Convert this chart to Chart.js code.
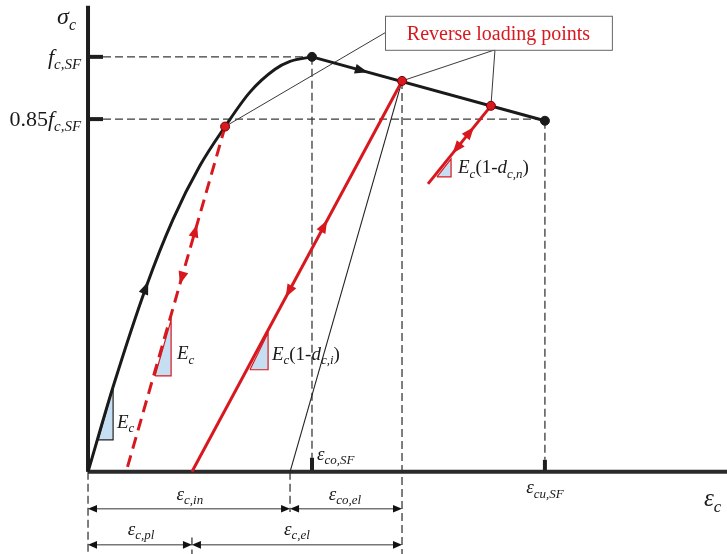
<!DOCTYPE html>
<html>
<head>
<meta charset="utf-8">
<script src="https://cdn.jsdelivr.net/npm/chart.js@4.4.1/dist/chart.umd.min.js"></script>
<style>
  html, body { margin: 0; padding: 0; background: #fff; }
  #wrap { width: 727px; height: 554px; position: relative; }
</style>
</head>
<body>
<div id="wrap"><canvas id="chart"></canvas></div>
<script>
// Schematic compression law: strain scaled by eps_co,SF, stress scaled by f_c,SF
var envelopeStrain = [0, 0.112, 0.259, 0.379, 0.500, 0.612, 0.723, 0.835, 0.902, 1.0];
var envelopeStress = [0, 0.205, 0.445, 0.608, 0.738, 0.832, 0.915, 0.970, 0.989, 1.0];
var softeningStrain = [1.0, 2.04];
var softeningStress = [1.0, 0.846];
var reverseStrain = [0.612, 1.402, 1.799];
var reverseStress = [0.832, 0.942, 0.882];
var unloadEndStrain = [0.170, 0.464, 1.518];
var unloadEndStress = [0, 0, 0.694];
var epsIn = 0.902;          // secant intercept (eps_c,in)
var stressTicks = [1.0, 0.85];
var strainTicks = [1.0, 2.04];

// slope triangles: [left x, right x] and [bottom y, top y]
var triStrain = [[0.045, 0.112], [0.299, 0.371], [0.723, 0.804], [1.558, 1.621]];
var triStress = [[0.077, 0.205], [0.231, 0.366], [0.246, 0.335], [0.711, 0.754]];

var RED = '#d7191f';
var BLUE = '#c6def2';
var FONT = '"Liberation Serif", "DejaVu Serif", serif';

var xMin = -0.393, xMax = 2.853, yMin = -0.198, yMax = 1.137;
var row1 = -0.089, row2 = -0.176;   // dimension rows under the axis

function pts(xs, ys) {
  return xs.map(function(x, i) { return { x: x, y: ys[i] }; });
}
function lineDs(data, color, width, dash, order) {
  return { data: data, showLine: true, borderColor: color, borderWidth: width,
           borderDash: dash || [], pointRadius: 0, tension: 0, fill: false, order: order || 5 };
}

var datasets = [];

// dashed guide lines
var guides = [
  [[0.067, softeningStrain[0]], [stressTicks[0], stressTicks[0]]],
  [[0.067, softeningStrain[1]], [stressTicks[1], stressTicks[1]]],
  [[strainTicks[0], strainTicks[0]], [stressTicks[0], 0.034]],
  [[strainTicks[1], strainTicks[1]], [softeningStress[1], 0.029]],
  [[reverseStrain[1], reverseStrain[1]], [reverseStress[1], yMin]],
  [[0, 0], [0, yMin]],
  [[epsIn, epsIn], [0, -0.097]],
  [[unloadEndStrain[1], unloadEndStrain[1]], [-0.158, yMin]]
];
guides.forEach(function(g) {
  datasets.push(lineDs(pts(g[0], g[1]), '#3a3a3a', 1.3, [8, 4], 10));
});

// slope triangles
triStrain.forEach(function(tx, i) {
  var ty = triStress[i];
  datasets.push({
    data: pts([tx[0], tx[1], tx[1], tx[0]], [ty[0], ty[0], ty[1], ty[0]]),
    showLine: true, fill: 'shape', backgroundColor: BLUE,
    borderColor: i === 0 ? '#222' : RED, borderWidth: 1.2, pointRadius: 0, tension: 0, order: 9
  });
});

// axes and ticks
datasets.push(lineDs(pts([0, xMax], [0, 0]), '#2a2a2a', 4, null, 8));
datasets.push(lineDs(pts([0, 0], [0, 1.123]), '#1e1e1e', 4, null, 8));
stressTicks.forEach(function(s) {
  datasets.push(lineDs(pts([0, 0.067], [s, s]), '#1e1e1e', 4, null, 8));
});
datasets.push(lineDs(pts([strainTicks[0], strainTicks[0]], [0, 0.034]), '#1e1e1e', 4, null, 8));
datasets.push(lineDs(pts([strainTicks[1], strainTicks[1]], [0, 0.029]), '#1e1e1e', 4, null, 8));

// envelope
var env = lineDs(pts(envelopeStrain, envelopeStress), '#1a1a1a', 3, null, 4);
env.cubicInterpolationMode = 'monotone';
datasets.push(env);
datasets.push(lineDs(pts(softeningStrain, softeningStress), '#1a1a1a', 3, null, 4));

// secant from reverse point i
datasets.push(lineDs(pts([reverseStrain[1], epsIn], [reverseStress[1], 0]), '#222', 1.1, null, 6));

// unloading / reloading branches
datasets.push(lineDs(pts([reverseStrain[0], unloadEndStrain[0]], [reverseStress[0], unloadEndStress[0]]), RED, 3, [12, 7], 3));
datasets.push(lineDs(pts([reverseStrain[1], unloadEndStrain[1]], [reverseStress[1], unloadEndStress[1]]), RED, 3, null, 3));
datasets.push(lineDs(pts([reverseStrain[2], unloadEndStrain[2]], [reverseStress[2], unloadEndStress[2]]), RED, 3, null, 3));

// marker points
datasets.push({ data: pts([softeningStrain[0], softeningStrain[1]], [softeningStress[0], softeningStress[1]]),
  pointRadius: 4.5, pointBackgroundColor: '#1a1a1a', pointBorderColor: '#1a1a1a', showLine: false, order: 1 });
datasets.push({ data: pts(reverseStrain, reverseStress),
  pointRadius: 4.5, pointBackgroundColor: RED, pointBorderColor: '#7a0000', pointBorderWidth: 1, showLine: false, order: 1 });

// arrows on branches: [from point, to point, fraction, direction (+1 towards "to"), colour]
var arrows = [
  [[envelopeStrain[2], envelopeStress[2]], [envelopeStrain[3], envelopeStress[3]], 0.0, 1, '#1a1a1a'],
  [[softeningStrain[0], softeningStress[0]], [softeningStrain[1], softeningStress[1]], 0.215, 1, '#1a1a1a'],
  [[reverseStrain[0], reverseStress[0]], [unloadEndStrain[0], unloadEndStress[0]], 0.30, -1, RED],
  [[reverseStrain[0], reverseStress[0]], [unloadEndStrain[0], unloadEndStress[0]], 0.44, 1, RED],
  [[reverseStrain[1], reverseStress[1]], [unloadEndStrain[1], unloadEndStress[1]], 0.37, -1, RED],
  [[reverseStrain[1], reverseStress[1]], [unloadEndStrain[1], unloadEndStress[1]], 0.54, 1, RED],
  [[reverseStrain[2], reverseStress[2]], [unloadEndStrain[2], unloadEndStress[2]], 0.33, -1, RED],
  [[reverseStrain[2], reverseStress[2]], [unloadEndStrain[2], unloadEndStress[2]], 0.55, 1, RED]
];

var dims = [
  [0, epsIn, row1], [epsIn, reverseStrain[1], row1],
  [0, unloadEndStrain[1], row2], [unloadEndStrain[1], reverseStrain[1], row2]
];

var labels = [
  { parts: [['σ', 'i'], ['c', 'si']], x: -0.138, y: 1.079, size: 24, align: 'left' },
  { parts: [['f', 'i'], ['c,SF', 'si']], x: -0.031, y: stressTicks[0] - 0.017, size: 22, align: 'right' },
  { parts: [['0.85', ''], ['f', 'i'], ['c,SF', 'si']], x: -0.031, y: stressTicks[1] - 0.017, size: 22, align: 'right' },
  { parts: [['ε', 'i'], ['co,SF', 'si']], x: 1.022, y: 0.029, size: 19, align: 'left' },
  { parts: [['ε', 'i'], ['cu,SF', 'si']], x: strainTicks[1], y: -0.051, size: 19, align: 'center' },
  { parts: [['ε', 'i'], ['c', 'si']], x: 2.75, y: -0.082, size: 25, align: 'left' },
  { parts: [['ε', 'i'], ['c,in', 'si']], x: 0.455, y: -0.067, size: 19, align: 'center' },
  { parts: [['ε', 'i'], ['co,el', 'si']], x: 1.147, y: -0.067, size: 19, align: 'center' },
  { parts: [['ε', 'i'], ['c,pl', 'si']], x: 0.237, y: -0.152, size: 19, align: 'center' },
  { parts: [['ε', 'i'], ['c,el', 'si']], x: 0.933, y: -0.152, size: 19, align: 'center' },
  { parts: [['E', 'i'], ['c', 'si']], x: 0.129, y: 0.106, size: 19, align: 'left' },
  { parts: [['E', 'i'], ['c', 'si']], x: 0.397, y: 0.272, size: 19, align: 'left' },
  { parts: [['E', 'i'], ['c', 'si'], ['(1-', ''], ['d', 'i'], ['c,i', 'si'], [')', '']], x: 0.821, y: 0.270, size: 19, align: 'left' },
  { parts: [['E', 'i'], ['c', 'si'], ['(1-', ''], ['d', 'i'], ['c,n', 'si'], [')', '']], x: 1.652, y: 0.720, size: 19, align: 'left' }
];

var box = { x0: 1.326, x1: 2.339, y0: 1.017, y1: 1.099, anchorX: 1.817, text: 'Reverse loading points' };

function partFont(p, size) {
  var sub = p[1].indexOf('s') >= 0;
  var it = p[1].indexOf('i') >= 0;
  return (it ? 'italic ' : '') + (sub ? Math.round(size * 0.68) : size) + 'px ' + FONT;
}
function drawRich(ctx, l, px, py) {
  var w = 0;
  l.parts.forEach(function(p) { ctx.font = partFont(p, l.size); w += ctx.measureText(p[0]).width; });
  var cx = l.align === 'right' ? px - w : (l.align === 'center' ? px - w / 2 : px);
  ctx.fillStyle = '#1a1a1a';
  ctx.textBaseline = 'alphabetic';
  ctx.textAlign = 'left';
  l.parts.forEach(function(p) {
    ctx.font = partFont(p, l.size);
    var dy = p[1].indexOf('s') >= 0 ? l.size * 0.24 : 0;
    ctx.fillText(p[0], cx, py + dy);
    cx += ctx.measureText(p[0]).width;
  });
}
function head(ctx, tx, ty, ang, len, half, color) {
  ctx.save();
  ctx.translate(tx, ty);
  ctx.rotate(ang);
  ctx.beginPath();
  ctx.moveTo(0, 0);
  ctx.lineTo(-len, -half);
  ctx.lineTo(-len, half);
  ctx.closePath();
  ctx.fillStyle = color;
  ctx.fill();
  ctx.restore();
}

var sketchPlugin = {
  id: 'sketch',
  beforeDatasetsDraw: function(chart) {
    var ctx = chart.ctx, X = chart.scales.x, Y = chart.scales.y;
    var bx0 = X.getPixelForValue(box.x0), by0 = Y.getPixelForValue(box.y0), by1 = Y.getPixelForValue(box.y1);
    var ax = X.getPixelForValue(box.anchorX);
    ctx.save();
    ctx.strokeStyle = '#222';
    ctx.lineWidth = 0.9;
    ctx.beginPath();
    ctx.moveTo(bx0, (by0 + by1) / 2);
    ctx.lineTo(X.getPixelForValue(reverseStrain[0]), Y.getPixelForValue(reverseStress[0]));
    for (var i = 1; i < 3; i++) {
      ctx.moveTo(ax, by0);
      ctx.lineTo(X.getPixelForValue(reverseStrain[i]), Y.getPixelForValue(reverseStress[i]));
    }
    ctx.stroke();
    ctx.restore();
  },
  afterDatasetsDraw: function(chart) {
    var ctx = chart.ctx, X = chart.scales.x, Y = chart.scales.y;
    ctx.save();

    // arrowheads on branches
    arrows.forEach(function(a) {
      var ax = X.getPixelForValue(a[0][0]), ay = Y.getPixelForValue(a[0][1]);
      var bx = X.getPixelForValue(a[1][0]), by = Y.getPixelForValue(a[1][1]);
      var px = ax + a[2] * (bx - ax), py = ay + a[2] * (by - ay);
      var ang = Math.atan2(by - ay, bx - ax);
      if (a[3] < 0) ang += Math.PI;
      head(ctx, px + 6 * Math.cos(ang), py + 6 * Math.sin(ang), ang, 13, 5, a[4]);
    });

    // dimension lines
    dims.forEach(function(d) {
      var x0 = X.getPixelForValue(d[0]), x1 = X.getPixelForValue(d[1]), y = Y.getPixelForValue(d[2]);
      ctx.strokeStyle = '#777';
      ctx.lineWidth = 1.5;
      ctx.beginPath();
      ctx.moveTo(x0 + 4, y);
      ctx.lineTo(x1 - 4, y);
      ctx.stroke();
      head(ctx, x0, y, Math.PI, 9, 3.8, '#111');
      head(ctx, x1, y, 0, 9, 3.8, '#111');
    });

    // callout box
    var bx0 = X.getPixelForValue(box.x0), bx1 = X.getPixelForValue(box.x1);
    var by0 = Y.getPixelForValue(box.y0), by1 = Y.getPixelForValue(box.y1);
    ctx.fillStyle = '#fff';
    ctx.fillRect(bx0, by1, bx1 - bx0, by0 - by1);
    ctx.strokeStyle = '#666';
    ctx.lineWidth = 1;
    ctx.strokeRect(bx0 + 0.5, by1 + 0.5, bx1 - bx0, by0 - by1);
    ctx.fillStyle = RED;
    ctx.font = '20px ' + FONT;
    ctx.textAlign = 'center';
    ctx.textBaseline = 'alphabetic';
    ctx.fillText(box.text, (bx0 + bx1) / 2, by0 - 10);

    // labels
    labels.forEach(function(l) {
      drawRich(ctx, l, X.getPixelForValue(l.x), Y.getPixelForValue(l.y));
    });
    ctx.restore();
  }
};

new Chart(document.getElementById('chart'), {
  type: 'scatter',
  data: { datasets: datasets },
  options: {
    responsive: true,
    maintainAspectRatio: false,
    animation: false,
    layout: { padding: 0, autoPadding: false },
    scales: {
      x: { type: 'linear', min: xMin, max: xMax, display: false },
      y: { type: 'linear', min: yMin, max: yMax, display: false }
    },
    plugins: {
      legend: { display: false },
      tooltip: { enabled: false }
    }
  },
  plugins: [sketchPlugin]
});
</script>
</body>
</html>
